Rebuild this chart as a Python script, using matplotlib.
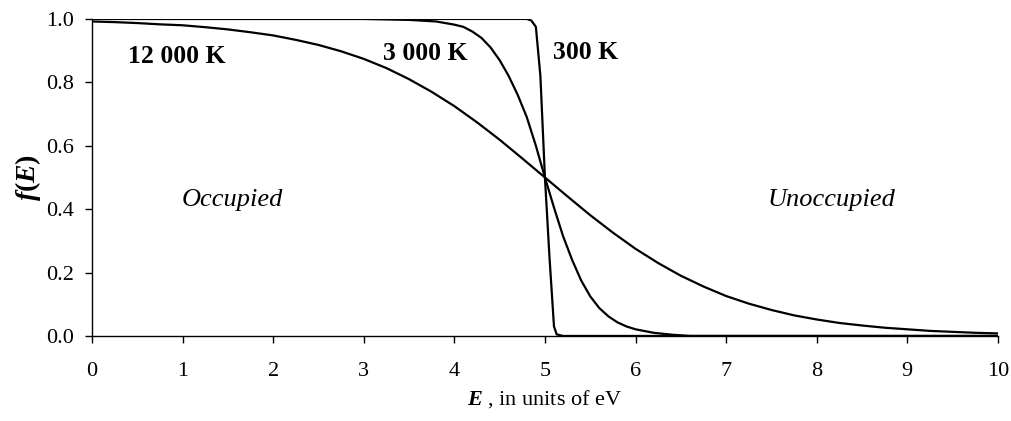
import matplotlib
matplotlib.use("Agg")
import matplotlib.pyplot as plt

# ---- Fermi-Dirac occupation, E_F = 5 eV ----
# 12 000 K curve
e_12000 = [0.0, 0.25, 0.5, 0.75, 1.0, 1.25, 1.5, 1.75, 2.0, 2.25, 2.5, 2.75,
           3.0, 3.25, 3.5, 3.75, 4.0, 4.25, 4.5, 4.75, 5.0, 5.25, 5.5, 5.75,
           6.0, 6.25, 6.5, 6.75, 7.0, 7.25, 7.5, 7.75, 8.0, 8.25, 8.5, 8.75,
           9.0, 9.25, 9.5, 9.75, 10.0]
f_12000 = [0.992, 0.990, 0.987, 0.983, 0.980, 0.974, 0.967, 0.958, 0.948, 0.934, 0.918, 0.898,
           0.874, 0.845, 0.810, 0.770, 0.725, 0.674, 0.619, 0.560, 0.500, 0.440, 0.381, 0.326,
           0.275, 0.230, 0.190, 0.156, 0.126, 0.102, 0.082, 0.065, 0.052, 0.041, 0.033, 0.026,
           0.021, 0.016, 0.013, 0.010, 0.008]

# 3 000 K curve
e_3000 = [0.0, 3.0, 3.5, 3.8, 4.0, 4.1, 4.2, 4.3, 4.4, 4.5, 4.6, 4.7, 4.8, 4.9, 5.0,
          5.1, 5.2, 5.3, 5.4, 5.5, 5.6, 5.7, 5.8, 5.9, 6.0, 6.2, 6.4, 6.6, 10.0]
f_3000 = [1.0, 1.0, 0.997, 0.992, 0.982, 0.975, 0.960, 0.940, 0.910, 0.870, 0.820, 0.760, 0.690, 0.600, 0.500,
          0.405, 0.315, 0.240, 0.175, 0.125, 0.088, 0.062, 0.043, 0.030, 0.021, 0.010, 0.004, 0.0, 0.0]

# 300 K curve
e_300 = [0.0, 4.8, 4.85, 4.9, 4.95, 5.0, 5.05, 5.1, 5.13, 5.2, 10.0]
f_300 = [1.0, 1.0, 0.995, 0.975, 0.82, 0.50, 0.25, 0.03, 0.005, 0.0, 0.0]

x_ticks = [0, 1, 2, 3, 4, 5, 6, 7, 8, 9, 10]
y_ticks = [0.0, 0.2, 0.4, 0.6, 0.8, 1.0]

plt.rcParams['font.family'] = ['Liberation Serif', 'DejaVu Serif']
plt.rcParams['mathtext.fontset'] = 'custom'
plt.rcParams['mathtext.rm'] = 'Liberation Serif'
plt.rcParams['mathtext.it'] = 'Liberation Serif:italic'
plt.rcParams['mathtext.bf'] = 'Liberation Serif:bold'
plt.rcParams['mathtext.bfit'] = 'Liberation Serif:italic:bold'

fig = plt.figure(figsize=(10.11, 4.21), dpi=100)
ax = fig.add_axes([0.091, 0.202, 0.896, 0.753])

for e, f in [(e_12000, f_12000), (e_3000, f_3000), (e_300, f_300)]:
    ax.plot(e, f, color='black', lw=1.6, solid_joinstyle='round')

ax.set_xlim(0, 10)
ax.set_ylim(0, 1.0)
ax.set_xticks(x_ticks)
ax.set_yticks(y_ticks)
ax.set_yticklabels([f"{v:.1f}" for v in y_ticks])
ax.spines['top'].set_visible(False)
ax.spines['right'].set_visible(False)
ax.spines['left'].set_linewidth(1.0)
ax.spines['bottom'].set_linewidth(1.0)
ax.tick_params(axis='both', direction='out', length=5, width=1.0, labelsize=16)
ax.tick_params(axis='x', pad=14)
ax.tick_params(axis='y', pad=8)

ax.set_xlabel(r"$\mathbfit{E}$ , in units of eV", fontsize=16, labelpad=5)
ax.set_ylabel(r"$\mathbfit{f}\mathbf{(}\mathbfit{E}\mathbf{)}$", fontsize=20, labelpad=2)

# curve labels
ax.text(0.40, 0.88, "12 000 K", fontsize=18.5, fontweight='bold', va='center', ha='left')
ax.text(3.21, 0.89, "3 000 K", fontsize=18.5, fontweight='bold', va='center', ha='left')
ax.text(5.09, 0.895, "300 K", fontsize=18.5, fontweight='bold', va='center', ha='left')

ax.text(1.55, 0.41, "Occupied", fontsize=19, style='italic', ha='center', va='baseline')
ax.text(8.16, 0.41, "Unoccupied", fontsize=19, style='italic', ha='center', va='baseline')

fig.savefig("out.png", dpi=100)
